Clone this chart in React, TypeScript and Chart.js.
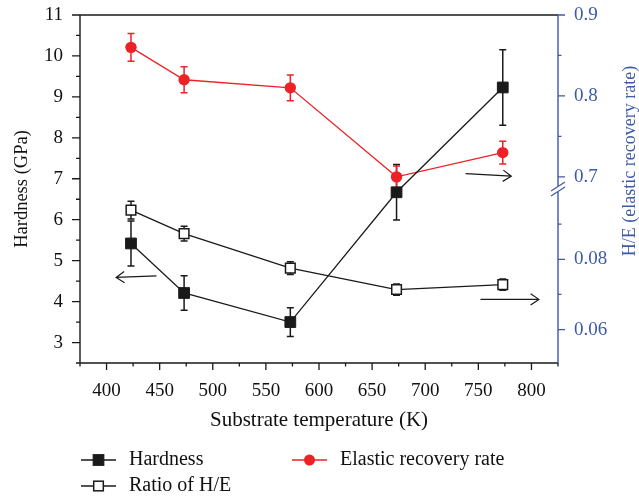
import React, { useEffect, useRef } from 'react';
import { Chart, registerables } from 'chart.js';

Chart.register(...registerables);

// ---------- data ----------
const temperatures = [423, 473, 573, 673, 773];
const hardness = [5.42, 4.21, 3.5, 6.67, 9.23];
const hardnessErr = [0.55, 0.42, 0.35, 0.68, 0.92];
const elasticRecovery = [0.86, 0.82, 0.81, 0.7, 0.73];
const elasticErr = [0.017, 0.016, 0.016, 0.0135, 0.014];
const ratioHE = [0.094, 0.0873, 0.0775, 0.0714, 0.0728];
const ratioErr = [0.0025, 0.0021, 0.0018, 0.0016, 0.0016];

const xMajorTicks = [400, 450, 500, 550, 600, 650, 700, 750, 800];
const xMinorTicks = [375, 425, 475, 525, 575, 625, 675, 725, 775, 825];
const hardnessMajorTicks = [3, 4, 5, 6, 7, 8, 9, 10, 11];
const hardnessMinorTicks = [2.5, 3.5, 4.5, 5.5, 6.5, 7.5, 8.5, 9.5, 10.5];
const elasticMajorTicks = [0.7, 0.8, 0.9];
const elasticMinorTicks = [0.75, 0.85];
const ratioMajorTicks = [0.06, 0.08];
const ratioMinorTicks = [0.07, 0.09];

// annotation arrows pointing to the axis each series belongs to (data coords)
const arrowNotes = [
  { axis: 'y', from: [447, 4.63], to: [409, 4.59] },
  { axis: 'yTop', from: [738, 0.704], to: [781, 0.7008] },
  { axis: 'yBottom', from: [752, 0.0686], to: [807, 0.0686] },
];

const RED = '#ec2227';
const BLUE = '#3d5aa7';
const BLACK = '#1a1a1a';
const FONT = "'Liberation Serif', 'Times New Roman', serif";

const errorsByDataset: number[][] = [hardnessErr, elasticErr, ratioErr];
const majorsByScale: Record<string, number[]> = {
  x: xMajorTicks,
  y: hardnessMajorTicks,
  yTop: elasticMajorTicks,
  yBottom: ratioMajorTicks,
};

const fmt = (v: number) => String(Math.round(v * 1000) / 1000);
const isMajor = (id: string, v: number) => majorsByScale[id].some((m) => Math.abs(m - v) < 1e-9);

const setTicks = (majors: number[], minors: number[]) => (scale: any) => {
  scale.ticks = [...majors, ...minors].sort((a, b) => a - b).map((value) => ({ value }));
};

const fitVertical = (w: number) => (s: any) => {
  s.width = w;
  s.paddingTop = 0;
  s.paddingBottom = 0;
};

const framePlugin = {
  id: 'frame',
  beforeDatasetsDraw(chart: any) {
    const { ctx, scales } = chart;
    ctx.save();
    // error bars
    chart.data.datasets.forEach((ds: any, di: number) => {
      const ys = chart.scales[ds.yAxisID];
      const errs = errorsByDataset[di];
      ctx.strokeStyle = ds.borderColor;
      ctx.lineWidth = 1.5;
      ds.data.forEach((p: any, i: number) => {
        const x = scales.x.getPixelForValue(p.x);
        const y1 = ys.getPixelForValue(p.y + errs[i]);
        const y2 = ys.getPixelForValue(p.y - errs[i]);
        ctx.beginPath();
        ctx.moveTo(x, y1);
        ctx.lineTo(x, y2);
        ctx.moveTo(x - 3.5, y1);
        ctx.lineTo(x + 3.5, y1);
        ctx.moveTo(x - 3.5, y2);
        ctx.lineTo(x + 3.5, y2);
        ctx.stroke();
      });
    });
    ctx.restore();
  },
  afterDraw(chart: any) {
    const { ctx, chartArea, scales } = chart;
    const { left, right, top, bottom } = chartArea;
    ctx.save();
    ctx.lineWidth = 1.4;
    // black frame: left, top, bottom
    ctx.strokeStyle = BLACK;
    ctx.beginPath();
    ctx.moveTo(left, top);
    ctx.lineTo(left, bottom);
    ctx.moveTo(left, top);
    ctx.lineTo(right, top);
    ctx.moveTo(left, bottom);
    ctx.lineTo(right, bottom);
    ctx.stroke();
    // tick marks
    const drawTicks = (id: string, color: string) => {
      const s = scales[id];
      ctx.strokeStyle = color;
      ctx.lineWidth = 1.3;
      ctx.beginPath();
      s.ticks.forEach((t: any) => {
        const p = s.getPixelForValue(t.value);
        const major = isMajor(id, t.value);
        if (id === 'x') {
          const len = major ? 7 : 3.5;
          ctx.moveTo(p, bottom);
          ctx.lineTo(p, bottom + len);
        } else if (id === 'y') {
          const len = major ? 8 : 4;
          ctx.moveTo(left, p);
          ctx.lineTo(left - len, p);
        } else {
          const len = major ? 7 : 3.5;
          ctx.moveTo(right, p);
          ctx.lineTo(right + len, p);
        }
      });
      ctx.stroke();
    };
    drawTicks('x', BLACK);
    drawTicks('y', BLACK);
    drawTicks('yTop', BLUE);
    drawTicks('yBottom', BLUE);
    // right blue axis with break
    const br = scales.yTop.bottom;
    ctx.strokeStyle = BLUE;
    ctx.lineWidth = 1.4;
    ctx.beginPath();
    ctx.moveTo(right, top);
    ctx.lineTo(right, br - 3);
    ctx.moveTo(right, br + 3);
    ctx.lineTo(right, bottom);
    ctx.stroke();
    ctx.lineWidth = 1.2;
    ctx.beginPath();
    ctx.moveTo(right - 7, br + 2);
    ctx.lineTo(right + 7, br - 7);
    ctx.moveTo(right - 7, br + 7);
    ctx.lineTo(right + 7, br - 2);
    ctx.stroke();
    // arrows
    ctx.strokeStyle = BLACK;
    ctx.lineWidth = 1.2;
    arrowNotes.forEach((a) => {
      const ys = scales[a.axis];
      const x1 = scales.x.getPixelForValue(a.from[0]);
      const y1 = ys.getPixelForValue(a.from[1]);
      const x2 = scales.x.getPixelForValue(a.to[0]);
      const y2 = ys.getPixelForValue(a.to[1]);
      const ang = Math.atan2(y2 - y1, x2 - x1);
      const hl = 10;
      ctx.beginPath();
      ctx.moveTo(x1, y1);
      ctx.lineTo(x2, y2);
      ctx.moveTo(x2 - hl * Math.cos(ang - 0.6), y2 - hl * Math.sin(ang - 0.6));
      ctx.lineTo(x2, y2);
      ctx.lineTo(x2 - hl * Math.cos(ang + 0.6), y2 - hl * Math.sin(ang + 0.6));
      ctx.stroke();
    });
    // right axis title
    ctx.fillStyle = BLUE;
    ctx.font = `18px ${FONT}`;
    ctx.textAlign = 'center';
    ctx.textBaseline = 'middle';
    ctx.translate(right + 72, top + 146);
    ctx.rotate(-Math.PI / 2);
    ctx.fillText('H/E (elastic recovery rate)', 0, 0);
    ctx.restore();

    // legend
    ctx.save();
    const legendRows = [
      { ds: 0, x: left + 1, y: bottom + 97 },
      { ds: 1, x: left + 212, y: bottom + 97 },
      { ds: 2, x: left + 1, y: bottom + 123 },
    ];
    ctx.font = `20px ${FONT}`;
    ctx.textBaseline = 'middle';
    ctx.textAlign = 'left';
    legendRows.forEach((r) => {
      const ds = chart.data.datasets[r.ds];
      ctx.strokeStyle = ds.borderColor;
      ctx.lineWidth = 1.3;
      ctx.beginPath();
      ctx.moveTo(r.x, r.y);
      ctx.lineTo(r.x + 35, r.y);
      ctx.stroke();
      const cx = r.x + 17.5;
      if (ds.pointStyle === 'circle') {
        ctx.fillStyle = ds.pointBackgroundColor;
        ctx.beginPath();
        ctx.arc(cx, r.y, 5.5, 0, Math.PI * 2);
        ctx.fill();
      } else {
        const h = ds.pointRadius * Math.SQRT1_2;
        ctx.fillStyle = ds.pointBackgroundColor;
        ctx.fillRect(cx - h, r.y - h, 2 * h, 2 * h);
        ctx.lineWidth = ds.pointBorderWidth;
        ctx.strokeStyle = ds.pointBorderColor;
        ctx.strokeRect(cx - h, r.y - h, 2 * h, 2 * h);
      }
      ctx.fillStyle = '#111';
      ctx.fillText(ds.label, r.x + 48, r.y);
    });
    ctx.restore();
  },
};

export default function App() {
  const ref = useRef<HTMLCanvasElement | null>(null);

  useEffect(() => {
    if (!ref.current) return;
    const toPts = (ys: number[]) => temperatures.map((x, i) => ({ x, y: ys[i] }));
    const hiddenGrid = { drawOnChartArea: false, color: 'rgba(0,0,0,0)', tickColor: 'rgba(0,0,0,0)' };
    const chart = new Chart(ref.current, {
      type: 'line',
      data: {
        datasets: [
          {
            label: 'Hardness',
            data: toPts(hardness),
            yAxisID: 'y',
            borderColor: BLACK,
            borderWidth: 1.3,
            pointStyle: 'rect',
            pointRadius: 7.6,
            pointBackgroundColor: BLACK,
            pointBorderColor: BLACK,
            pointBorderWidth: 1,
          },
          {
            label: 'Elastic recovery rate',
            data: toPts(elasticRecovery),
            yAxisID: 'yTop',
            borderColor: RED,
            borderWidth: 1.3,
            pointStyle: 'circle',
            pointRadius: 5.7,
            pointBackgroundColor: RED,
            pointBorderColor: RED,
            pointBorderWidth: 0,
          },
          {
            label: 'Ratio of H/E',
            data: toPts(ratioHE),
            yAxisID: 'yBottom',
            borderColor: BLACK,
            borderWidth: 1.3,
            pointStyle: 'rect',
            pointRadius: 6.8,
            pointBackgroundColor: '#ffffff',
            pointBorderColor: BLACK,
            pointBorderWidth: 1.5,
          },
        ],
      } as any,
      options: {
        animation: false,
        responsive: true,
        maintainAspectRatio: false,
        layout: { padding: { top: 15, bottom: 58, left: 0, right: 0 } },
        plugins: { legend: { display: false }, tooltip: { enabled: false } },
        scales: {
          x: {
            type: 'linear',
            min: 375,
            max: 825,
            afterBuildTicks: setTicks(xMajorTicks, xMinorTicks),
            afterFit: (s: any) => { s.height = 75; s.paddingLeft = 0; s.paddingRight = 0; },
            grid: { ...hiddenGrid, tickLength: 7 },
            border: { display: false },
            ticks: {
              autoSkip: false,
              maxRotation: 0,
              padding: 10,
              color: '#111',
              font: { family: FONT, size: 19 },
              callback: (v: any) => (isMajor('x', Number(v)) ? fmt(Number(v)) : ''),
            },
            title: {
              display: true,
              text: 'Substrate temperature (K)',
              color: '#111',
              font: { family: FONT, size: 21 },
              padding: { top: 0, bottom: 5 },
            },
          },
          y: {
            type: 'linear',
            position: 'left',
            min: 2.5,
            max: 11,
            afterBuildTicks: setTicks(hardnessMajorTicks, hardnessMinorTicks),
            afterFit: fitVertical(80),
            grid: { ...hiddenGrid, tickLength: 8 },
            border: { display: false },
            ticks: {
              autoSkip: false,
              padding: 9,
              color: '#111',
              font: { family: FONT, size: 19 },
              callback: (v: any) => (isMajor('y', Number(v)) ? fmt(Number(v)) : ''),
            },
            title: {
              display: true,
              text: 'Hardness (GPa)',
              color: '#111',
              font: { family: FONT, size: 18.5 },
              padding: { top: 11, bottom: 0 },
            },
          },
          yTop: {
            type: 'linear',
            position: 'right',
            stack: 'right',
            stackWeight: 1,
            min: 0.685,
            max: 0.9,
            afterBuildTicks: setTicks(elasticMajorTicks, elasticMinorTicks),
            afterFit: fitVertical(81),
            grid: { ...hiddenGrid, tickLength: 7 },
            border: { display: false },
            ticks: {
              autoSkip: false,
              padding: 9,
              color: BLUE,
              font: { family: FONT, size: 19 },
              callback: (v: any) => (isMajor('yTop', Number(v)) ? fmt(Number(v)) : ''),
            },
          },
          yBottom: {
            type: 'linear',
            position: 'right',
            stack: 'right',
            stackWeight: 1,
            min: 0.0505,
            max: 0.1,
            afterBuildTicks: setTicks(ratioMajorTicks, ratioMinorTicks),
            afterFit: fitVertical(81),
            grid: { ...hiddenGrid, tickLength: 7 },
            border: { display: false },
            ticks: {
              autoSkip: false,
              padding: 9,
              color: BLUE,
              font: { family: FONT, size: 19 },
              callback: (v: any) => (isMajor('yBottom', Number(v)) ? fmt(Number(v)) : ''),
            },
          },
        },
      } as any,
      plugins: [framePlugin],
    });
    return () => chart.destroy();
  }, []);

  return (
    <div style={{ position: 'fixed', left: 0, top: 0, width: 639, height: 496, background: '#fff' }}>
      <canvas ref={ref} />
    </div>
  );
}
